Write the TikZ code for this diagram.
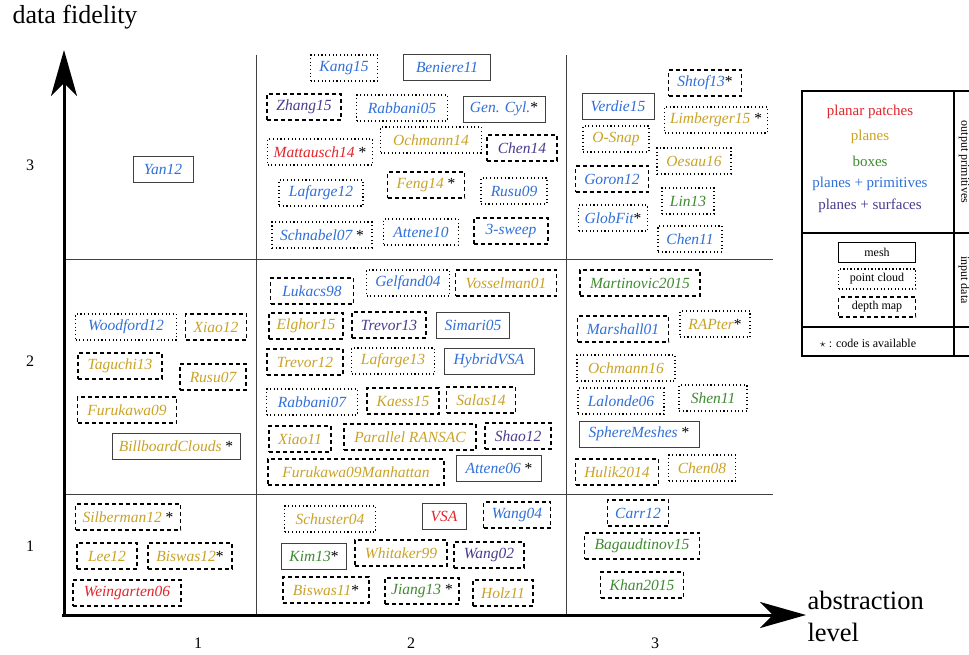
\documentclass[tikz,border=0pt]{standalone}
\usepackage{fontspec}
\setmainfont{Liberation Serif}
\usepackage{xcolor}
\usepackage{tikz}
\usetikzlibrary{arrows.meta}
\definecolor{patchred}{HTML}{E3242B}
\definecolor{planegold}{HTML}{C9A227}
\definecolor{boxgreen}{HTML}{3E8A2F}
\definecolor{primblue}{HTML}{2F6FD8}
\definecolor{surfpurple}{HTML}{4B3A8E}
\newcommand{\codeavail}{\textcolor{black}{\upshape *}}

\begin{document}
\begin{tikzpicture}[x=1pt,y=-1pt,
  lab/.style={font=\fontsize{15.5}{18}\selectfont\itshape, minimum height=26pt, inner xsep=3pt, inner ysep=2pt},
  meshbox/.style={lab, draw=black!75, line width=1pt},
  cloudbox/.style={lab, draw=black, line width=1.1pt, dash pattern=on 1.1pt off 2.6pt},
  depthbox/.style={lab, draw=black, line width=1.1pt, dash pattern=on 4pt off 3pt},
  wd/.style={minimum width=#1pt},
  patch/.style={text=patchred}, plane/.style={text=planegold}, boxes/.style={text=boxgreen},
  prim/.style={text=primblue}, surf/.style={text=surfpurple},
  axis/.style={line width=3pt, -{Stealth[length=46pt,width=26pt,inset=13pt]}},
  grid/.style={black!75, line width=1pt},
  tick/.style={font=\fontsize{16}{18}\selectfont},
  legbox/.style={font=\fontsize{12}{14}\selectfont, minimum width=77pt, minimum height=20pt, inner sep=0pt}]
\useasboundingbox (0,0) rectangle (969,654);

% axes and grid
\coordinate (orig) at (64,617);
\coordinate (origx) at (62,615);
\coordinate (ytop) at (64,50);
\coordinate (xend) at (806,615);
\draw[grid] (256,55) -- (256,615);
\draw[grid] (566,55) -- (566,615);
\draw[grid] (64,259) -- (773,259);
\draw[grid] (64,494) -- (773,494);
\draw[axis] (orig) -- (ytop);
\draw[axis] (origx) -- (xend);

\node[font=\fontsize{26}{30}\selectfont] (fid) at (75,17) {data fidelity};
\node[font=\fontsize{26.5}{32}\selectfont, align=left, anchor=west] (abs) at (804,616) {abstraction\\level};
\node[tick] (y3) at (30,165) {3};
\node[tick] (y2) at (30,361) {2};
\node[tick] (y1) at (30,546) {1};
\node[tick] (x1) at (198,643) {1};
\node[tick] (x2) at (411,643) {2};
\node[tick] (x3) at (655,643) {3};

% fidelity 3
\node[meshbox, prim, wd=60] (yan12) at (163,169) {Yan12};
\node[cloudbox, prim, wd=67] (kang15) at (344,68) {Kang15};
\node[meshbox, prim, wd=87] (beniere11) at (447,67) {Beniere11};
\node[depthbox, surf, wd=74] (zhang15) at (304,107) {Zhang15};
\node[cloudbox, prim, wd=91] (rabbani05) at (402,108) {Rabbani05};
\node[meshbox, prim, wd=82] (gencyl) at (504,109) {Gen. Cyl.\codeavail};
\node[cloudbox, patch, wd=105] (mattausch14) at (320,152) {Mattausch14~\codeavail};
\node[cloudbox, plane, wd=101] (ochmann14) at (431,140) {Ochmann14};
\node[depthbox, surf, wd=70] (chen14) at (522,148) {Chen14};
\node[cloudbox, prim, wd=84] (lafarge12) at (321,193) {Lafarge12};
\node[depthbox, plane, wd=77] (feng14) at (426,185) {Feng14~\codeavail};
\node[cloudbox, prim, wd=66] (rusu09) at (514,191) {Rusu09};
\node[cloudbox, prim, wd=100] (schnabel07) at (322,235) {Schnabel07~\codeavail};
\node[cloudbox, prim, wd=75] (attene10) at (421,232) {Attene10};
\node[depthbox, prim, wd=74] (sweep3) at (511,231) {3-sweep};
\node[depthbox, prim, wd=73] (shtof13) at (705,83) {Shtof13\codeavail};
\node[meshbox, prim, wd=72] (verdie15) at (618,106) {Verdie15};
\node[cloudbox, plane, wd=103] (limberger15) at (716,120) {Limberger15~\codeavail};
\node[cloudbox, plane, wd=66] (osnap) at (616,139) {O-Snap};
\node[cloudbox, plane, wd=74] (oesau16) at (694,161) {Oesau16};
\node[depthbox, prim, wd=73] (goron12) at (612,179) {Goron12};
\node[cloudbox, boxes, wd=52] (lin13) at (688,201) {Lin13};
\node[cloudbox, prim, wd=69] (globfit) at (613,218) {GlobFit\codeavail};
\node[cloudbox, prim, wd=64] (chen11) at (690,239) {Chen11};

% fidelity 2
\node[cloudbox, prim, wd=101] (woodford12) at (126,327) {Woodford12};
\node[depthbox, plane, wd=61] (xiao12) at (216,327) {Xiao12};
\node[depthbox, plane, wd=84] (taguchi13) at (120,366) {Taguchi13};
\node[depthbox, plane, wd=66] (rusu07) at (213,377) {Rusu07};
\node[depthbox, plane, wd=99] (furukawa09) at (127,410) {Furukawa09};
\node[meshbox, plane, wd=128] (billboard) at (176,446) {BillboardClouds~\codeavail};
\node[depthbox, prim, wd=83] (lukacs98) at (312,291) {Lukacs98};
\node[cloudbox, prim, wd=83] (gelfand04) at (408,283) {Gelfand04};
\node[depthbox, plane, wd=101] (vosselman01) at (506,283) {Vosselman01};
\node[depthbox, plane, wd=74] (elghor15) at (306,326) {Elghor15};
\node[depthbox, surf, wd=74] (trevor13) at (389,325) {Trevor13};
\node[meshbox, prim, wd=73] (simari05) at (473,325) {Simari05};
\node[depthbox, plane, wd=76] (trevor12) at (305,362) {Trevor12};
\node[cloudbox, plane, wd=83] (lafarge13) at (393,361) {Lafarge13};
\node[meshbox, prim, wd=90] (hybridvsa) at (489,361) {HybridVSA};
\node[cloudbox, prim, wd=91] (rabbani07) at (312,402) {Rabbani07};
\node[depthbox, plane, wd=72] (kaess15) at (403,401) {Kaess15};
\node[depthbox, plane, wd=69] (salas14) at (481,400) {Salas14};
\node[depthbox, plane, wd=62] (xiao11) at (300,439) {Xiao11};
\node[depthbox, plane, wd=132] (ransac) at (410,437) {Parallel RANSAC};
\node[depthbox, surf, wd=66] (shao12) at (518,436) {Shao12};
\node[depthbox, plane, wd=176] (furukawa09m) at (356,472) {Furukawa09Manhattan};
\node[meshbox, prim, wd=85] (attene06) at (499,468) {Attene06~\codeavail};
\node[depthbox, boxes, wd=120] (martinovic2015) at (640,283) {Martinovic2015};
\node[depthbox, prim, wd=91] (marshall01) at (623,329) {Marshall01};
\node[cloudbox, plane, wd=70] (rapter) at (715,324) {RAPter\codeavail};
\node[cloudbox, plane, wd=98] (ochmann16) at (626,368) {Ochmann16};
\node[cloudbox, prim, wd=86] (lalonde06) at (621,401) {Lalonde06};
\node[cloudbox, boxes, wd=68] (shen11) at (713,398) {Shen11};
\node[meshbox, prim, wd=120] (spheremeshes) at (639,434) {SphereMeshes~\codeavail};
\node[depthbox, plane, wd=83] (hulik2014) at (617,472) {Hulik2014};
\node[cloudbox, plane, wd=67] (chen08) at (702,468) {Chen08};

% fidelity 1
\node[depthbox, plane, wd=105] (silberman12) at (128,517) {Silberman12~\codeavail};
\node[depthbox, plane, wd=60] (lee12) at (107,556) {Lee12};
\node[depthbox, plane, wd=84] (biswas12) at (190,556) {Biswas12\codeavail};
\node[depthbox, patch, wd=108] (weingarten06) at (127,593) {Weingarten06};
\node[cloudbox, plane, wd=91] (schuster04) at (330,519) {Schuster04};
\node[meshbox, patch, wd=44] (vsa) at (444,516) {VSA};
\node[depthbox, prim, wd=67] (wang04) at (517,515) {Wang04};
\node[meshbox, boxes, wd=65] (kim13) at (314,556) {Kim13\codeavail};
\node[depthbox, plane, wd=92] (whitaker99) at (401,553) {Whitaker99};
\node[depthbox, surf, wd=70] (wang02) at (489,555) {Wang02};
\node[depthbox, plane, wd=86] (biswas11) at (326,590) {Biswas11\codeavail};
\node[depthbox, boxes, wd=74] (jiang13) at (422,591) {Jiang13~\codeavail};
\node[depthbox, plane, wd=60] (holz11) at (503,593) {Holz11};
\node[depthbox, prim, wd=61] (carr12) at (638,513) {Carr12};
\node[depthbox, boxes, wd=115] (bagaudtinov15) at (642,546) {Bagaudtinov15};
\node[depthbox, boxes, wd=83] (khan2015) at (642,585) {Khan2015};

% legend
\draw[line width=2pt] (802,91) rectangle (990,356);
\draw[line width=2pt] (802,233) -- (990,233);
\draw[line width=2pt] (802,327) -- (990,327);
\draw[line width=2pt] (954,91) -- (954,356);
\begin{scope}[every node/.style={font=\fontsize{15}{17}\selectfont}]
\node[patch] (lpatch) at (870,112) {planar patches};
\node[plane] (lplane) at (870,137) {planes};
\node[boxes] (lboxes) at (870,161) {boxes};
\node[prim] (lprim) at (870,184) {planes + primitives};
\node[surf] (lsurf) at (870,206) {planes + surfaces};
\end{scope}
\node[legbox, draw=black, line width=1pt] (lmesh) at (877,252) {mesh};
\node[legbox, draw=black, line width=1.1pt, dash pattern=on 1.1pt off 2.4pt] (lcloud) at (877,279) {point cloud};
\node[legbox, draw=black, line width=1.1pt, dash pattern=on 4pt off 3pt] (ldepth) at (877,307) {depth map};
\node[font=\fontsize{12}{14}\selectfont] (lcode) at (868,343) {$\star$ : code is available};
\node[font=\fontsize{12}{14}\selectfont, rotate=-90] (lout) at (964,162) {output primitives};
\node[font=\fontsize{12}{14}\selectfont, rotate=-90] (lin) at (964,280) {input data};
\end{tikzpicture}
\end{document}
